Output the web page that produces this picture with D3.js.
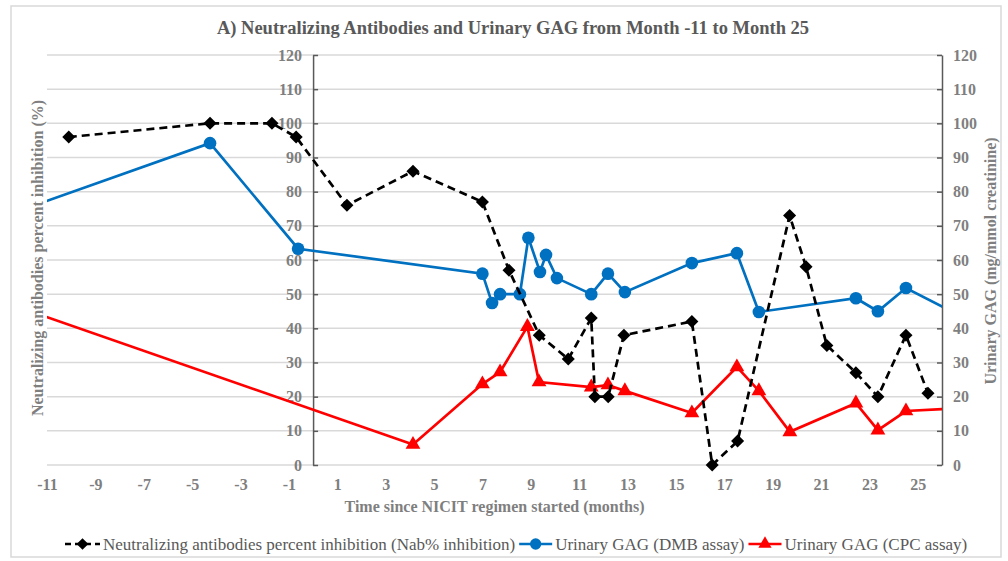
<!DOCTYPE html>
<html>
<head>
<meta charset="utf-8">
<script src="https://cdn.jsdelivr.net/npm/d3@7"></script>
<style>
  body { margin: 0; background: #fff; }
  svg { display: block; font-family: "Liberation Serif", "Times New Roman", serif; }
</style>
</head>
<body>
<svg id="chart" width="1008" height="561"></svg>
<script>
// Nab% inhibition (left axis)
let nabMonths = [-10.1, -4.26, -1.7, -0.7, 1.4, 4.13, 7.0, 8.1, 9.35, 10.55, 11.5, 11.65, 12.2, 12.85, 15.66, 16.5, 17.55, 19.7, 20.38, 21.24, 22.44, 23.35, 24.51, 25.42];
let nabValues = [96, 100, 100, 96, 76, 86, 77, 57, 38, 31, 43, 20, 20, 38, 42, 0, 7, 73, 58, 35, 27, 20, 38, 21];

// urinary GAG, DMB assay (right axis) - first/last points sit outside the shown range
let dmbMonths = [-13, -4.26, -0.62, 7.0, 7.4, 7.73, 8.55, 8.9, 9.38, 9.63, 10.08, 11.5, 12.19, 12.89, 15.66, 17.52, 18.43, 22.44, 23.35, 24.51, 27];
let dmbValues = [72.3, 94.2, 63.3, 56, 47.4, 50, 50, 66.5, 56.5, 61.5, 54.7, 50, 56, 50.6, 59.1, 62, 44.8, 48.8, 45, 51.8, 42.8];

// urinary GAG, CPC assay (right axis)
let cpcMonths = [-13, 4.13, 7.0, 7.73, 8.86, 9.34, 11.5, 12.19, 12.89, 15.66, 17.52, 18.43, 19.71, 22.44, 23.35, 24.51, 27];
let cpcValues = [48.2, 6, 23.7, 27.2, 40.5, 24.3, 22.8, 23.4, 21.7, 15.2, 28.7, 21.7, 9.7, 18.1, 10.2, 15.8, 16.7];

let xTicks = [-11, -9, -7, -5, -3, -1, 1, 3, 5, 7, 9, 11, 13, 15, 17, 19, 21, 23, 25];
let yTicks = [0, 10, 20, 30, 40, 50, 60, 70, 80, 90, 100, 110, 120];

let titleText = 'A) Neutralizing Antibodies and Urinary GAG from Month -11 to Month 25';
let legendLabels = ['Neutralizing antibodies percent inhibition (Nab% inhibition)', 'Urinary GAG (DMB assay)', 'Urinary GAG (CPC assay)'];

let svg = d3.select('#chart');
let pLeft = 47, pRight = 942, pTop = 55, pBottom = 465;

let x = d3.scaleLinear().domain([-11, 26]).range([pLeft, pRight]);
let yL = d3.scaleLinear().domain([0, 120]).range([pBottom, pTop]);
let yR = d3.scaleLinear().domain([0, 120]).range([pBottom, pTop]);

const grey = '#7f7f7f', dark = '#595959';
const serif = '"Liberation Serif", "Times New Roman", serif';

// outer frame
svg.append('rect').attr('x', 11).attr('y', 6).attr('width', 990).attr('height', 551)
    .attr('fill', 'none').attr('stroke', '#d9d9d9').attr('stroke-width', 1.5);

svg.append('text').attr('x', 513).attr('y', 34).attr('text-anchor', 'middle')
    .style('font-size', '18.5px').style('font-weight', 'bold').attr('fill', dark)
    .text(titleText);

// gridlines
svg.append('g').selectAll('line').data(yTicks).enter().append('line')
    .attr('x1', pLeft).attr('x2', pRight)
    .attr('y1', d => yL(d)).attr('y2', d => yL(d))
    .attr('stroke', '#d9d9d9').attr('stroke-width', 1.5);

// left axis crosses at month 0
let gL = svg.append('g').attr('transform', `translate(${x(0)},0)`)
    .call(d3.axisLeft(yL).tickValues(yTicks).tickSizeInner(-5).tickSizeOuter(0).tickPadding(11));
let gR = svg.append('g').attr('transform', `translate(${pRight},0)`)
    .call(d3.axisRight(yR).tickValues(yTicks).tickSizeInner(-5).tickSizeOuter(0).tickPadding(11));
[gL, gR].forEach(g => {
    g.attr('font-family', null);
    g.select('.domain').attr('stroke', dark).attr('stroke-width', 1.5);
    g.selectAll('.tick line').attr('stroke', dark).attr('stroke-width', 1.5);
    g.selectAll('.tick text').attr('fill', grey).style('font-size', '16px')
        .style('font-weight', 'bold').style('font-family', serif);
});

let gX = svg.append('g').attr('transform', `translate(0,${pBottom})`)
    .call(d3.axisBottom(x).tickValues(xTicks).tickFormat(d => String(d)).tickSize(0).tickPadding(14));
gX.attr('font-family', null);
gX.select('.domain').remove();
gX.selectAll('.tick text').attr('fill', grey).style('font-size', '16px')
    .style('font-weight', 'bold').style('font-family', serif);

// axis titles
svg.append('text').attr('x', (pLeft + pRight) / 2).attr('y', 512).attr('text-anchor', 'middle')
    .style('font-size', '16px').style('font-weight', 'bold').attr('fill', grey)
    .text('Time since NICIT regimen started (months)');
svg.append('text').attr('transform', 'translate(43,258) rotate(-90)').attr('text-anchor', 'middle')
    .style('font-size', '16px').style('font-weight', 'bold').attr('fill', grey)
    .text('Neutralizing antibodies percent inhibition (%)');
svg.append('text').attr('transform', 'translate(996,261) rotate(-90)').attr('text-anchor', 'middle')
    .style('font-size', '16px').style('font-weight', 'bold').attr('fill', grey)
    .text('Urinary GAG (mg/mmol creatinine)');

svg.append('clipPath').attr('id', 'plot').append('rect')
    .attr('x', pLeft).attr('y', pTop - 10).attr('width', pRight - pLeft).attr('height', pBottom - pTop + 20);

// diamond = square turned 45deg
let series = [
    { months: nabMonths, values: nabValues, y: yL, color: '#000000', dash: '8,5', sym: d3.symbolSquare, rot: 45, size: 85 },
    { months: dmbMonths, values: dmbValues, y: yR, color: '#0070c0', dash: null, sym: d3.symbolCircle, rot: 0, size: 125 },
    { months: cpcMonths, values: cpcValues, y: yR, color: '#ff0000', dash: null, sym: d3.symbolTriangle, rot: 0, size: 95 }
];

let plot = svg.append('g').attr('clip-path', 'url(#plot)');
series.slice().reverse().forEach(s => {
    let pts = s.months.map((m, i) => [m, s.values[i]]);
    plot.append('path').datum(pts)
        .attr('fill', 'none').attr('stroke', s.color).attr('stroke-width', 2.7)
        .attr('stroke-dasharray', s.dash)
        .attr('d', d3.line().x(d => x(d[0])).y(d => s.y(d[1])));
    plot.selectAll(null).data(pts.filter(d => d[0] >= -11 && d[0] <= 26)).enter().append('path')
        .attr('transform', d => `translate(${x(d[0])},${s.y(d[1])}) rotate(${s.rot})`)
        .attr('d', d3.symbol().type(s.sym).size(s.size))
        .attr('fill', s.color);
});

// legend
let lg = svg.append('g').attr('transform', 'translate(65,544)');
let cx = 0;
series.forEach((s, i) => {
    let lineLen = i == 0 ? 35 : 33;
    let item = lg.append('g').attr('transform', `translate(${cx},0)`);
    item.append('line').attr('x1', 0).attr('x2', lineLen).attr('y1', 0).attr('y2', 0)
        .attr('stroke', s.color).attr('stroke-width', 2.7).attr('stroke-dasharray', i == 0 ? '6,4' : null);
    item.append('path').attr('transform', `translate(${lineLen / 2},0) rotate(${s.rot})`)
        .attr('d', d3.symbol().type(s.sym).size(s.size * 0.8)).attr('fill', s.color);
    let t = item.append('text').attr('x', lineLen + 3).attr('y', 5.5)
        .style('font-size', '17px').attr('fill', dark).text(legendLabels[i]);
    cx += lineLen + 3 + t.node().getComputedTextLength() + 4;
});
</script>
</body>
</html>
